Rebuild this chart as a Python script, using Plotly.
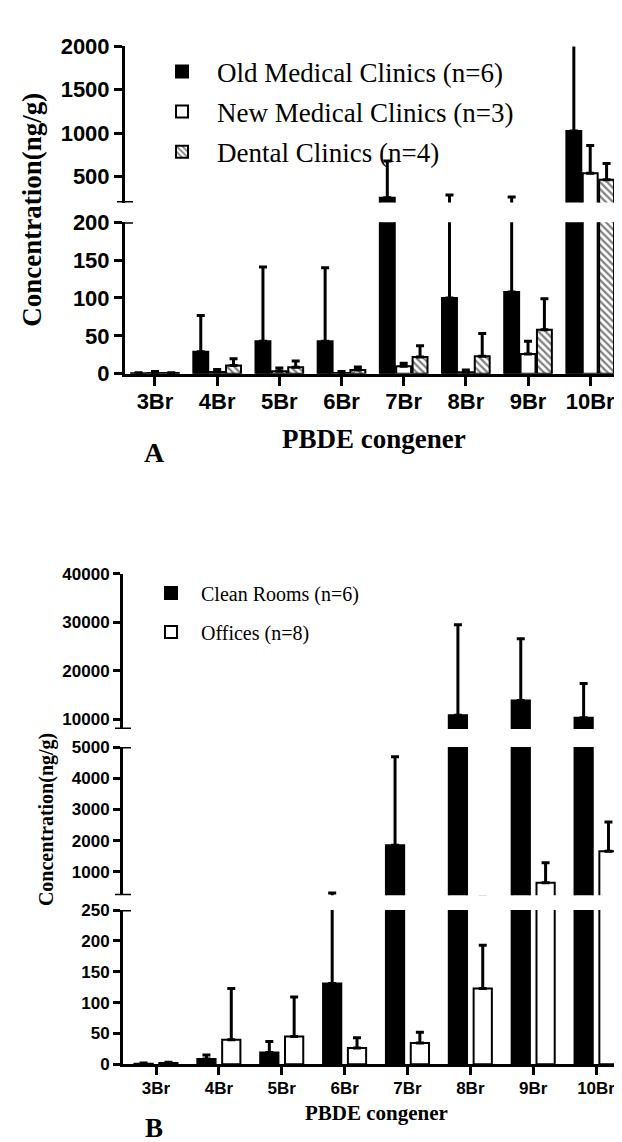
import plotly.graph_objects as go

W, H = 622, 1142

# ---------------- data ----------------
categories = ["3Br", "4Br", "5Br", "6Br", "7Br", "8Br", "9Br", "10Br"]

# Panel A (ng/g, mean and SD)
old_medical = [0.8, 29, 43, 43, 255, 100, 108, 1025]
old_medical_sd = [0.6, 48, 98, 97, 425, 186, 155, 1100]
new_medical = [1.0, 2.5, 3.5, 1.0, 10, 2.0, 26, 537]
new_medical_sd = [2.0, 3.0, 4.0, 2.0, 4.0, 3.0, 17, 320]
dental = [1.0, 11, 8.5, 5, 22, 23, 58, 462]
dental_sd = [0.5, 9, 8.5, 4, 15, 30, 41, 188]

# Panel B (ng/g, mean and SD)
clean_rooms = [1.0, 8.5, 19, 131, 1850, 10850, 13900, 10300]
clean_rooms_sd = [1.0, 6.5, 18, 190, 2840, 18600, 12700, 7100]
offices = [2.0, 40, 45, 26.5, 34.5, 123, 650, 1660]
offices_sd = [1.5, 83, 64, 16.5, 17.5, 70, 640, 940]

# axis segments (broken axes)
a_lower_range = [0, 200]
a_upper_range = [200, 2000]
a_lower_ticks = [0, 50, 100, 150, 200]
a_upper_ticks = [500, 1000, 1500, 2000]

b_lower_range = [0, 250]
b_mid_range = [250, 5000]
b_upper_range = [8000, 40000]
b_lower_ticks = [0, 50, 100, 150, 200, 250]
b_mid_ticks = [1000, 2000, 3000, 4000, 5000]
b_upper_ticks = [10000, 20000, 30000, 40000]


# ---------------- helpers (layout positions in px) ----------------
def px_x(p):
    return p / W


def px_y(p):
    return 1 - p / H


def dom(bottom_px, top_px):
    return [px_y(bottom_px), px_y(top_px)]


SANS = "Liberation Sans, Arial, sans-serif"
SERIF = "Liberation Serif, Times New Roman, serif"

fig = go.Figure()

series_a = [
    ("Old Medical Clinics (n=6)", old_medical, old_medical_sd, "black", ""),
    ("New Medical Clinics (n=3)", new_medical, new_medical_sd, "white", ""),
    ("Dental Clinics (n=4)", dental, dental_sd, "white", "\\"),
]
segments_a = [("y", a_lower_range), ("y2", a_upper_range)]

for si, (yax, _) in enumerate(segments_a):
    for name, vals, sd, fill, pat in series_a:
        fig.add_trace(go.Bar(
            x=categories, y=vals, name=name,
            xaxis="x", yaxis=yax,
            width=0.24,
            legend="legend", legendgroup=name, showlegend=(si == 0),
            marker=dict(color=fill, line=dict(color="black", width=2),
                        pattern=dict(shape=pat, fgcolor="black", bgcolor="white",
                                     size=5, solidity=0.45)),
            error_y=dict(type="data", array=sd, arrayminus=[0] * len(sd),
                         symmetric=False, color="black", thickness=3, width=4),
        ))

series_b = [
    ("Clean Rooms (n=6)", clean_rooms, clean_rooms_sd, "black"),
    ("Offices (n=8)", offices, offices_sd, "white"),
]
segments_b = [("y3", b_lower_range), ("y4", b_mid_range), ("y5", b_upper_range)]

for si, (yax, _) in enumerate(segments_b):
    for name, vals, sd, fill in series_b:
        fig.add_trace(go.Bar(
            x=categories, y=vals, name=name,
            xaxis="x2", yaxis=yax,
            width=0.29,
            legend="legend2", legendgroup=name, showlegend=(si == 0),
            marker=dict(color=fill, line=dict(color="black", width=2)),
            error_y=dict(type="data", array=sd, arrayminus=[0] * len(sd),
                         symmetric=False, color="black", thickness=3, width=4),
        ))

axis_common = dict(showline=True, linecolor="black", linewidth=3,
                   ticks="outside", tickcolor="black", tickwidth=3,
                   showgrid=False, zeroline=False)

tickfont_a = dict(family=SANS, size=22, color="black", weight="bold")
tickfont_b = dict(family=SANS, size=17, color="black", weight="bold")

fig.update_layout(
    width=W, height=H,
    margin=dict(l=0, r=0, t=0, b=0),
    paper_bgcolor="white", plot_bgcolor="white",
    barmode="group", bargap=0.21, bargroupgap=0,
    xaxis=dict(domain=[px_x(117), 1], anchor="y", type="category",
               range=[-0.482, 7.64], ticklen=9, tickfont=tickfont_a,
               ticklabelstandoff=-3, **axis_common),
    yaxis=dict(domain=dom(361.7, 206.7), anchor="x", range=a_lower_range,
               tickvals=a_lower_ticks, ticklen=8, tickfont=tickfont_a,
               **axis_common),
    yaxis2=dict(domain=dom(186.6, 27), anchor="x", range=a_upper_range,
                tickvals=a_upper_ticks, ticklen=8, tickfont=tickfont_a,
                tickformat="d", **axis_common),
    xaxis2=dict(domain=[px_x(115), 1], anchor="y3", type="category",
                range=[-0.525, 7.54], ticklen=8, tickfont=tickfont_b,
                ticklabelstandoff=-2, **axis_common),
    yaxis3=dict(domain=dom(1067.7, 910), anchor="x2", range=b_lower_range,
                tickvals=b_lower_ticks, ticklen=7, tickfont=tickfont_b,
                **axis_common),
    yaxis4=dict(domain=dom(894.9, 743.3), anchor="x2", range=b_mid_range,
                tickvals=b_mid_ticks, ticklen=7, tickfont=tickfont_b,
                tickformat="d", **axis_common),
    yaxis5=dict(domain=dom(724.9, 566), anchor="x2", range=b_upper_range,
                tickvals=b_upper_ticks, ticklen=7, tickfont=tickfont_b,
                tickformat="d", **axis_common),
    legend=dict(x=px_x(139), y=px_y(28), xanchor="left", yanchor="top",
                font=dict(family=SERIF, size=27, color="black"),
                itemwidth=60, bgcolor="rgba(0,0,0,0)", traceorder="grouped",
                tracegroupgap=2),
    legend2=dict(x=px_x(133), y=px_y(566), xanchor="left", yanchor="top",
                 font=dict(family=SERIF, size=20, color="black"),
                 itemwidth=50, bgcolor="rgba(0,0,0,0)", traceorder="grouped",
                 tracegroupgap=10),
    showlegend=True,
)

# axis break caps
caps = [("y", 200, 109, 125), ("y2", 200, 109, 125),
        ("y3", 250, 107, 123), ("y4", 250, 107, 123),
        ("y4", 5000, 107, 123), ("y5", 8000, 107, 123)]
for yref, yv, x0, x1 in caps:
    fig.add_shape(type="line", xref="paper", yref=yref,
                  x0=px_x(x0), x1=px_x(x1), y0=yv, y1=yv,
                  line=dict(color="black", width=3))

ann = []
title_font_a = dict(family=SERIF, size=27, color="black", weight="bold")
title_font_b = dict(family=SERIF, size=20, color="black", weight="bold")
ann.append(dict(text="Concentration(ng/g)", x=px_x(24), y=px_y(194),
                xref="paper", yref="paper", textangle=-90, showarrow=False,
                font=title_font_a, xanchor="center", yanchor="middle"))
ann.append(dict(text="PBDE congener", x=px_x(366), y=px_y(428),
                xref="paper", yref="paper", showarrow=False,
                font=title_font_a, xanchor="center", yanchor="middle"))
ann.append(dict(text="A", x=px_x(146), y=px_y(442),
                xref="paper", yref="paper", showarrow=False,
                font=dict(family=SERIF, size=28, color="black", weight="bold"),
                xanchor="center", yanchor="middle"))
ann.append(dict(text="Concentration(ng/g)", x=px_x(38), y=px_y(818),
                xref="paper", yref="paper", textangle=-90, showarrow=False,
                font=title_font_b, xanchor="center", yanchor="middle"))
ann.append(dict(text="PBDE congener", x=px_x(368), y=px_y(1117),
                xref="paper", yref="paper", showarrow=False,
                font=dict(family=SERIF, size=21, color="black", weight="bold"),
                xanchor="center", yanchor="middle"))
ann.append(dict(text="B", x=px_x(146), y=px_y(1133),
                xref="paper", yref="paper", showarrow=False,
                font=dict(family=SERIF, size=27, color="black", weight="bold"),
                xanchor="center", yanchor="middle"))
fig.update_layout(annotations=ann)

fig.write_html("out.html")
